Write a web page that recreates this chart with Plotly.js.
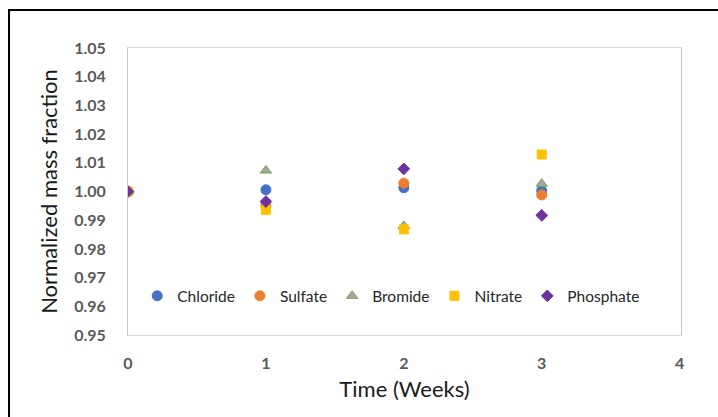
<!DOCTYPE html>
<html>
<head>
<meta charset="utf-8">
<script src="https://cdn.plot.ly/plotly-3.0.1.min.js"></script>
<style>
  html, body { margin: 0; padding: 0; background: #fff; }
  #chart { position: absolute; left: 0; top: 0; width: 718px; height: 417px; }
  #frame { position: absolute; left: 8px; top: 9px; width: 720px; height: 420px;
           border-top: 2px solid #000; border-left: 2px solid #000; pointer-events: none; }
</style>
</head>
<body>
<div id="chart"></div>
<div id="frame"></div>
<script>
const weeks = [0, 1, 2, 3];
const chloride  = [1.000, 1.0006, 1.0013, 1.0003];
const sulfate   = [1.000, 0.9950, 1.0029, 0.9988];
const bromide   = [1.000, 1.0073, 0.9880, 1.0027];
const nitrate   = [1.000, 0.9936, 0.9868, 1.0129];
const phosphate = [1.000, 0.9965, 1.0079, 0.9917];

const seriesNames = ['Chloride', 'Sulfate', 'Bromide', 'Nitrate', 'Phosphate'];
const seriesData = [chloride, sulfate, bromide, nitrate, phosphate];
const styles = [
  {symbol: 'circle', color: '#4472C4', line: '#4472C4', size: 10},
  {symbol: 'circle', color: '#ED7D31', line: '#ED7D31', size: 10},
  {symbol: 'triangle-up', color: '#A5A5A5', line: '#70AD47', size: 10},
  {symbol: 'square', color: '#FFC000', line: '#FFC000', size: 9},
  {symbol: 'diamond', color: '#7030A0', line: '#7030A0', size: 9}
];

const traces = seriesNames.map((n, i) => ({
  type: 'scatter', mode: 'markers', name: n, x: weeks, y: seriesData[i],
  marker: {symbol: styles[i].symbol, color: styles[i].color, size: styles[i].size,
           line: {color: styles[i].line, width: 1}}
}));

const font = 'Lato, sans-serif';
const layout = {
  width: 718, height: 417,
  margin: {l: 128, r: 37, t: 48, b: 82},
  paper_bgcolor: '#fff', plot_bgcolor: '#fff',
  showlegend: true,
  legend: {orientation: 'h', x: 0.476, xanchor: 'center', y: 0.135, yanchor: 'middle',
           font: {family: font, size: 15.5, color: '#262626'},
           bgcolor: 'rgba(0,0,0,0)', itemwidth: 30, tracegroupgap: 0},
  xaxis: {range: [0, 4.01], tickvals: [0, 1, 2, 3, 4], ticktext: ['0','1','2','3','4'],
          showgrid: false, zeroline: false, showline: true, linecolor: '#d9d9d9', linewidth: 1,
          mirror: true, ticks: '', ticklabelstandoff: 14,
          tickfont: {family: font, size: 16, color: '#595959', weight: 'bold'},
          title: {text: 'Time (Weeks)', font: {family: font, size: 22, color: '#1a1a1a'}, standoff: 10}},
  yaxis: {range: [0.95, 1.05], dtick: 0.01, tick0: 0.95, tickformat: '.2f',
          showgrid: false, zeroline: false, showline: true, linecolor: '#c8c8c8', linewidth: 1,
          mirror: true, ticks: '', ticklabelstandoff: 18,
          tickfont: {family: font, size: 16, color: '#595959', weight: 'bold'},
          title: {text: 'Normalized mass fraction', font: {family: font, size: 22, color: '#1a1a1a'}, standoff: 10}}
};

Plotly.newPlot('chart', traces, layout, {displayModeBar: false, staticPlot: true});
</script>
</body>
</html>
